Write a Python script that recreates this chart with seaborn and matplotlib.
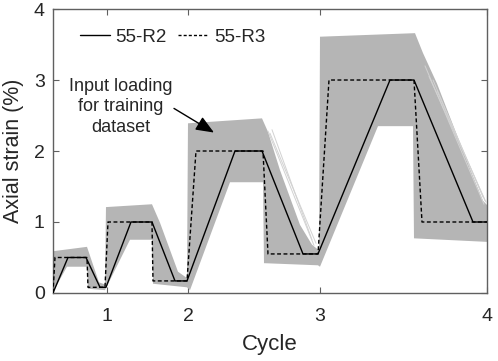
import numpy as np
import pandas as pd
import matplotlib
matplotlib.use("Agg")
import matplotlib.pyplot as plt
import seaborn as sns

# ---- data (time axis in arbitrary loading-step units) ----
r2_t = [0, 15, 33, 47, 53, 78, 99, 122, 134, 182, 209, 250, 265, 337, 361, 420, 434]
r2_y = [0, 0.5, 0.5, 0.08, 0.08, 1.0, 1.0, 0.17, 0.17, 2.0, 2.0, 0.55, 0.55, 3.0, 3.0, 1.0, 1.0]

r3_t = [0, 2, 34, 35, 52, 55, 99, 100, 134, 143, 210, 215, 265, 276, 361, 369, 434]
r3_y = [0, 0.5, 0.5, 0.08, 0.08, 1.0, 1.0, 0.17, 0.17, 2.0, 2.0, 0.55, 0.55, 3.0, 3.0, 1.0, 1.0]

band_up_t = [0, 1, 34, 46, 52, 53, 99, 107, 125, 134, 135, 209, 215, 227, 247, 259, 266,
             267, 362, 370, 384, 417, 430, 434]
band_up_y = [0, 0.59, 0.65, 0.15, 0.12, 1.21, 1.25, 0.99, 0.30, 0.21, 2.39, 2.46, 2.27,
             1.73, 0.96, 0.68, 0.60, 3.61, 3.66, 3.38, 2.95, 1.75, 1.30, 1.24]
band_lo_t = [0, 1, 14, 34, 35, 52, 77, 99, 100, 134, 137, 177, 210, 211, 265, 267, 325,
             360, 361, 434]
band_lo_y = [0, 0.04, 0.37, 0.37, 0.06, 0.04, 0.75, 0.75, 0.13, 0.08, 0.04, 1.56, 1.56,
             0.42, 0.39, 0.37, 2.35, 2.35, 0.77, 0.72]

# individual training curves visible at the edge of the band on unloading branches
fray_t = [[215, 261], [217, 263], [219, 259], [372, 431], [376, 433], [380, 430], [384, 432]]
fray_y = [[2.28, 0.67], [2.25, 0.70], [2.30, 0.75], [3.20, 1.25], [3.05, 1.28], [3.00, 1.35],
          [2.85, 1.30]]

cycle_tick_t = [54, 135, 267, 434]
cycle_tick_lab = ["1", "2", "3", "4"]
strain_ticks = [0, 1, 2, 3, 4]

# ---- style ----
sns.set_style("ticks")
plt.rcParams["font.family"] = ["Liberation Sans", "DejaVu Sans"]

fig = plt.figure(figsize=(4.98, 3.61), dpi=100)
ax = fig.add_axes([0.1064, 0.1884, 0.8715, 0.7866])

band_col = "#b5b5b5"
poly_t = np.r_[band_up_t, band_lo_t[::-1]]
poly_y = np.r_[band_up_y, band_lo_y[::-1]]
ax.fill(poly_t, poly_y, color=band_col, lw=0, zorder=1)
for ft, fy in zip(fray_t, fray_y):
    ax.plot(ft, fy, color="#d2d2d2", lw=0.7, zorder=1)

df2 = pd.DataFrame({"t": r2_t, "y": r2_y})
df3 = pd.DataFrame({"t": r3_t, "y": r3_y})
sns.lineplot(data=df2, x="t", y="y", sort=False, estimator=None, color="black",
             lw=1.0, ax=ax, label="55-R2", zorder=3)
sns.lineplot(data=df3, x="t", y="y", sort=False, estimator=None, color="black",
             lw=1.0, ax=ax, label="55-R3", zorder=3)
ax.lines[-1].set_dashes([2.8, 1.8])

ax.set_xlim(0, 434)
ax.set_ylim(0, 4)
ax.set_xticks(cycle_tick_t)
ax.set_xticklabels(cycle_tick_lab)
ax.set_yticks(strain_ticks)
ax.set_yticklabels([str(v) for v in strain_ticks])

spine_col = "#606060"
for s in ax.spines.values():
    s.set_visible(True)
    s.set_color(spine_col)
    s.set_linewidth(1.0)
ax.tick_params(axis="both", direction="in", length=4, width=0.8, color=spine_col,
               labelsize=14, top=True, right=True)
ax.tick_params(axis="x", pad=11)
ax.tick_params(axis="y", pad=6)

ax.set_xlabel("Cycle", fontsize=16, labelpad=6)
ax.set_ylabel("Axial strain (%)", fontsize=15.5, labelpad=7)

leg = ax.legend(loc="center left", ncol=2, frameon=False, fontsize=13.5,
                bbox_to_anchor=(0.062, 0.90), handlelength=1.6, handletextpad=0.3,
                columnspacing=0.6, borderaxespad=0, borderpad=0)
for h in leg.get_lines():
    h.set_linewidth(1.0)
leg.get_lines()[1].set_dashes([2.2, 1.5])

ax.text(68, 2.62, "Input loading\nfor training\ndataset", ha="center", va="center",
        fontsize=13, linespacing=1.28)
ax.annotate("", xy=(161, 2.26), xytext=(121, 2.60),
            arrowprops=dict(arrowstyle="-|>,head_length=1.1,head_width=0.45",
                            color="black", lw=1.0, shrinkA=0, shrinkB=0))

fig.savefig("out.png", dpi=100)
